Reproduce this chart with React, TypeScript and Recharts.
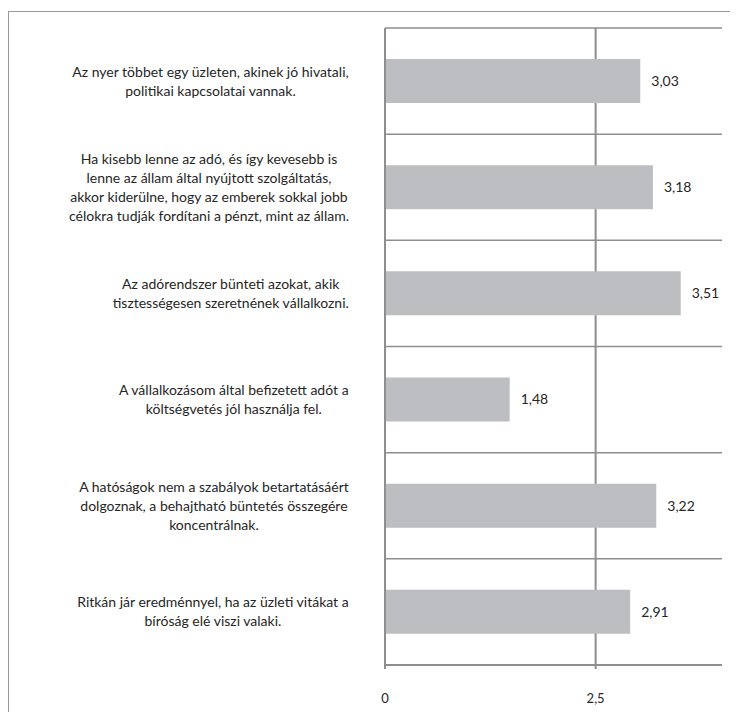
import { BarChart, Bar, XAxis, YAxis, CartesianGrid, LabelList } from "recharts";

const CATEGORIES = [
  "Az nyer többet egy üzleten, akinek jó hivatali,\npolitikai kapcsolatai vannak.",
  "Ha kisebb lenne az adó, és így kevesebb is\nlenne az állam által nyújtott szolgáltatás,\nakkor kiderülne, hogy az emberek sokkal jobb\ncélokra tudják fordítani a pénzt, mint az állam.",
  "Az adórendszer bünteti azokat, akik\ntisztességesen szeretnének vállalkozni.",
  "A vállalkozásom által befizetett adót a\nköltségvetés jól használja fel.",
  "A hatóságok nem a szabályok betartatásáért\ndolgoznak, a behajtható büntetés összegére\nkoncentrálnak.",
  "Ritkán jár eredménnyel, ha az üzleti vitákat a\nbíróság elé viszi valaki.",
];
const VALUES = [3.03, 3.18, 3.51, 1.48, 3.22, 2.91];
const X_TICKS = [0, 2.5];
const X_MAX = 4;

const FONT = "Lato, 'Open Sans', sans-serif";
const TEXT = "#262626";
const LINE = "#8e8e8e";
const BAR = "#bdbec1";

const data = CATEGORIES.map((name, i) => ({ name, value: VALUES[i] }));

const fmt = (v: number | string, digits?: number) =>
  (typeof v === "number" && digits != null ? v.toFixed(digits) : String(v)).replace(".", ",");

let ctx: CanvasRenderingContext2D | null = null;
function measure(s: string, size: number) {
  if (!ctx) ctx = document.createElement("canvas").getContext("2d");
  if (!ctx) return s.length * size * 0.5;
  ctx.font = `${size}px Lato`;
  return ctx.measureText(s).width;
}

// label blocks sit right-aligned next to the axis, lines centred inside the block
function CategoryTick({ x, y, payload }: any) {
  const lines = String(payload.value).split("\n");
  const w = Math.max(...lines.map((l) => measure(l, 14)));
  const cx = x - 34 - w / 2;
  return (
    <text textAnchor="middle" fontSize={14} fill={TEXT} fontFamily={FONT}>
      {lines.map((l, i) => (
        <tspan key={i} x={cx} y={y + (i - (lines.length - 1) / 2) * 19 + 5}>
          {l}
        </tspan>
      ))}
    </text>
  );
}

export default function App() {
  return (
    <div style={{ position: "relative", width: 730, height: 705, fontFamily: FONT }}>
      <div
        style={{
          position: "absolute",
          left: 0,
          top: 3,
          width: 728,
          height: 700,
          borderLeft: "1.5px solid #9a9a9a",
          borderTop: "1.5px solid #9a9a9a",
        }}
      />
      <div style={{ position: "absolute", left: 0, top: 0 }}>
        <BarChart
          width={730}
          height={700}
          data={data}
          layout="vertical"
          margin={{ top: 20, right: 16, bottom: 0, left: 0 }}
          barSize={44}
        >
          <CartesianGrid
            vertical={false}
            stroke={LINE}
            strokeWidth={1.5}
            horizontalCoordinatesGenerator={({ offset }: any) =>
              Array.from({ length: CATEGORIES.length + 1 }, (_, i) => offset.top + (i * offset.height) / CATEGORIES.length)
            }
          />
          <CartesianGrid
            horizontal={false}
            stroke={LINE}
            strokeWidth={2}
            verticalCoordinatesGenerator={({ offset }: any) =>
              X_TICKS.map((t) => offset.left + (t / X_MAX) * offset.width)
            }
          />
          <XAxis
            type="number"
            domain={[0, X_MAX]}
            ticks={X_TICKS}
            height={43}
            axisLine={{ stroke: LINE, strokeWidth: 2 }}
            tickLine={{ stroke: LINE, strokeWidth: 2 }}
            tickSize={4}
            tickMargin={25}
            tick={{ fill: TEXT, fontSize: 13, fontFamily: FONT }}
            tickFormatter={(v) => fmt(v)}
          />
          <YAxis
            type="category"
            dataKey="name"
            width={377}
            axisLine={{ stroke: LINE, strokeWidth: 2 }}
            tickLine={false}
            tickSize={0}
            tick={<CategoryTick />}
            interval={0}
          />
          <Bar dataKey="value" fill={BAR} isAnimationActive={false}>
            <LabelList
              dataKey="value"
              position="right"
              offset={11}
              fill={TEXT}
              fontSize={14}
              fontFamily={FONT}
              formatter={(v: any) => fmt(Number(v), 2)}
            />
          </Bar>
        </BarChart>
      </div>
    </div>
  );
}
